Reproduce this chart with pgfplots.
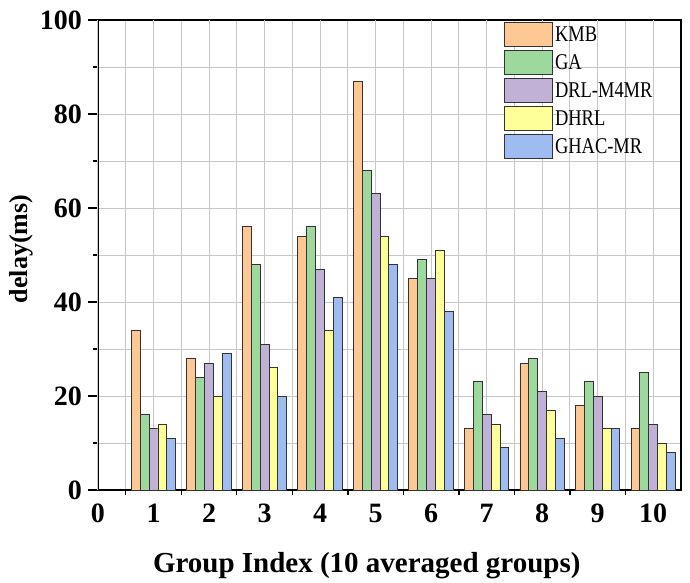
\documentclass[border=0pt]{standalone}
\usepackage{fontspec}
\setmainfont{Liberation Serif}
\newfontfamily\legfont[FakeStretch=0.82]{Liberation Serif}
\usepackage{pgfplots}
\pgfplotsset{compat=1.18}
\definecolor{ckmb}{HTML}{FDC894}
\definecolor{cga}{HTML}{9DD89D}
\definecolor{cdrl}{HTML}{C2B1D7}
\definecolor{cdhrl}{HTML}{FFFF99}
\definecolor{cghac}{HTML}{9EBCF0}
\pgfplotstableread{
x kmb ga drl dhrl ghac
1 34 16 13 14 11
2 28 24 27 20 29
3 56 48 31 26 20
4 54 56 47 34 41
5 87 68 63 54 48
6 45 49 45 51 38
7 13 23 16 14 9
8 27 28 21 17 11
9 18 23 20 13 13
10 13 25 14 10 8
}\datatable
\begin{document}
\begin{tikzpicture}
\begin{axis}[
  name=ax,
  scale only axis,
  width=583pt, height=470pt,
  xmin=0, xmax=10.5, ymin=0, ymax=100,
  xtick={-1},
  minor xtick={0.5,1.5,...,9.5},
  extra x ticks={0,1,...,10},
  extra x tick style={major tick length=0pt, grid=major,
    xticklabel style={anchor=base, yshift=-32pt}},
  ytick={0,20,...,100},
  minor ytick={10,30,...,90},
  xtick pos=bottom, ytick pos=left,
  tick align=outside,
  major tick length=10pt, minor tick length=5pt,
  grid=both,
  major grid style={line width=1pt, color=black!22},
  minor grid style={line width=1pt, color=black!22},
  axis line style={line width=1.8pt},
  every tick/.style={line width=1.3pt, black},
  /pgf/number format/assume math mode=true,
  ticklabel style={font=\fontsize{28}{30}\selectfont\bfseries},
  yticklabel style={inner sep=2pt, xshift=-4pt},
  xlabel={Group Index (10 averaged groups)},
  ylabel={delay(ms)},
  xlabel style={font=\fontsize{29}{32}\selectfont\bfseries,
    at={(axis description cs:0.461,-0.1745)}, anchor=base},
  ylabel style={font=\fontsize{26}{30}\selectfont\bfseries,
    at={(axis description cs:-0.132,0.513)}, anchor=center},
  legend style={at={(rel axis cs:0.691,1.0)}, anchor=north west, draw=none, fill=none,
    font=\fontsize{22.5}{24}\selectfont\legfont, row sep=3pt,
    nodes={inner sep=2pt}},
  legend cell align=left,
  legend image code/.code={\draw[#1, line width=1pt] (0pt,-12pt) rectangle (48pt,12pt);},
]
\addplot[ybar, bar width=0.16, bar shift=-0.32, fill=ckmb, draw=black!80, line width=0.9pt] table[x=x,y=kmb]{\datatable};
\addplot[ybar, bar width=0.16, bar shift=-0.16, fill=cga, draw=black!80, line width=0.9pt] table[x=x,y=ga]{\datatable};
\addplot[ybar, bar width=0.16, bar shift=0, fill=cdrl, draw=black!80, line width=0.9pt] table[x=x,y=drl]{\datatable};
\addplot[ybar, bar width=0.16, bar shift=0.16, fill=cdhrl, draw=black!80, line width=0.9pt] table[x=x,y=dhrl]{\datatable};
\addplot[ybar, bar width=0.16, bar shift=0.32, fill=cghac, draw=black!80, line width=0.9pt] table[x=x,y=ghac]{\datatable};
\legend{KMB,GA,DRL-M4MR,DHRL,GHAC-MR}
\end{axis}
\pgfresetboundingbox
\path ([shift={(-98pt,-92pt)}]ax.south west) rectangle ([shift={(9pt,20pt)}]ax.north east);
\end{tikzpicture}
\end{document}
